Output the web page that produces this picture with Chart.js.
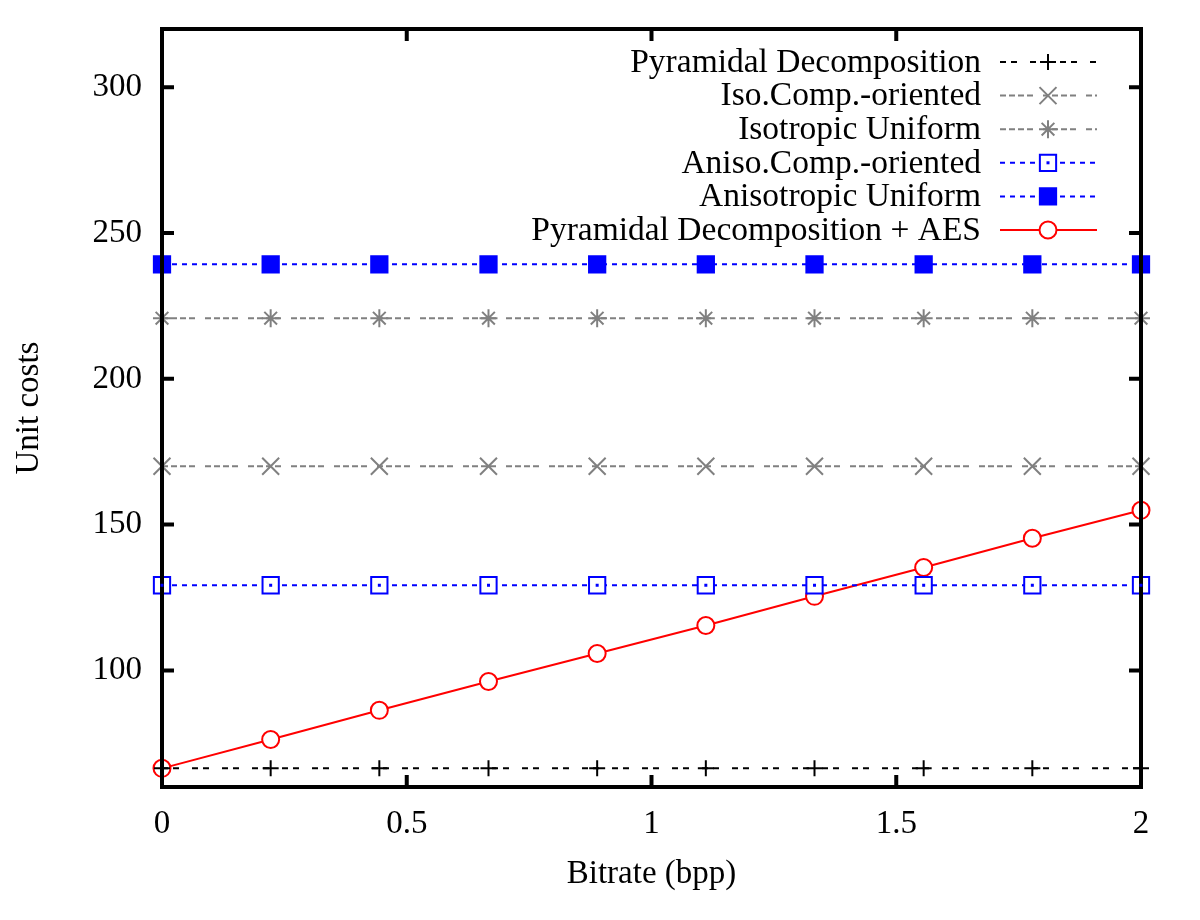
<!DOCTYPE html>
<html>
<head>
<meta charset="utf-8">
<script src="https://cdn.jsdelivr.net/npm/chart.js@4.4.0/dist/chart.umd.min.js"></script>
<style>
  body { margin: 0; background: #fff; }
</style>
</head>
<body>
<canvas id="costChart" width="1200" height="920"></canvas>
<script>
// bitrate samples (bpp)
const bitrates = [0, 0.222, 0.444, 0.667, 0.889, 1.111, 1.333, 1.556, 1.778, 2];

const pyramidal = [66.4, 66.4, 66.4, 66.4, 66.4, 66.4, 66.4, 66.4, 66.4, 66.4];
const isoComp = [170, 170, 170, 170, 170, 170, 170, 170, 170, 170];
const isoUniform = [220.8, 220.8, 220.8, 220.8, 220.8, 220.8, 220.8, 220.8, 220.8, 220.8];
const anisoComp = [129.2, 129.2, 129.2, 129.2, 129.2, 129.2, 129.2, 129.2, 129.2, 129.2];
const anisoUniform = [239.3, 239.3, 239.3, 239.3, 239.3, 239.3, 239.3, 239.3, 239.3, 239.3];
const pyramidalAES = [66.4, 76.3, 86.3, 96.2, 105.8, 115.4, 125.4, 135.3, 145.3, 154.9];

const xTicks = [0, 0.5, 1, 1.5, 2];
const yTicks = [100, 150, 200, 250, 300];

const FONT = '"Liberation Serif", "DejaVu Serif", serif';

function pts(vals) {
  return vals.map((v, i) => ({ x: bitrates[i], y: v }));
}

function series(label, vals, color, dash, style, radius, fill) {
  return {
    label: label,
    data: pts(vals),
    borderColor: color,
    borderWidth: 2,
    borderDash: dash,
    pointStyle: style,
    pointRadius: radius,
    pointBorderColor: color,
    pointBackgroundColor: fill,
    pointBorderWidth: 2,
    tension: 0,
    clip: false,
  };
}

// frame, inward ticks (all four sides), and the legend
const gnuplotFrame = {
  id: "gnuplotFrame",
  afterDatasetsDraw(chart) {
    const ctx = chart.ctx;
    const a = chart.chartArea;
    const xs = chart.scales.x, ys = chart.scales.y;
    ctx.save();
    ctx.strokeStyle = "#000";
    ctx.lineWidth = 4;
    ctx.strokeRect(a.left, a.top, a.right - a.left, a.bottom - a.top);
    ctx.beginPath();
    yTicks.forEach(v => {
      const y = ys.getPixelForValue(v);
      ctx.moveTo(a.left, y); ctx.lineTo(a.left + 12, y);
      ctx.moveTo(a.right, y); ctx.lineTo(a.right - 12, y);
    });
    xTicks.forEach(v => {
      const x = xs.getPixelForValue(v);
      ctx.moveTo(x, a.bottom); ctx.lineTo(x, a.bottom - 12);
      ctx.moveTo(x, a.top); ctx.lineTo(x, a.top + 12);
    });
    ctx.stroke();

    // centre dot on open squares
    chart.data.datasets.forEach((ds, i) => {
      if (ds.centerDot) {
        ctx.fillStyle = ds.borderColor;
        chart.getDatasetMeta(i).data.forEach(p => {
          ctx.fillRect(p.x - 1.5, p.y - 1.5, 3, 3);
        });
      }
    });

    // legend
    ctx.font = "33.5px " + FONT;
    ctx.textAlign = "right";
    ctx.textBaseline = "middle";
    chart.data.datasets.forEach((ds, i) => {
      const y = 62 + i * 33.6;
      ctx.fillStyle = "#000";
      ctx.fillText(ds.label, 981, y + 1);
      ctx.save();
      ctx.strokeStyle = ds.borderColor;
      ctx.lineWidth = ds.borderWidth;
      ctx.setLineDash(ds.borderDash || []);
      ctx.beginPath();
      ctx.moveTo(1000, y); ctx.lineTo(1097, y);
      ctx.stroke();
      ctx.setLineDash([]);
      ctx.strokeStyle = ds.pointBorderColor;
      ctx.fillStyle = ds.pointBackgroundColor;
      ctx.lineWidth = ds.pointBorderWidth;
      Chart.helpers.drawPoint(ctx, { pointStyle: ds.pointStyle, radius: ds.pointRadius, rotation: 0, borderWidth: ds.pointBorderWidth }, 1048, y);
      if (ds.centerDot) {
        ctx.fillStyle = ds.borderColor;
        ctx.fillRect(1048 - 1.5, y - 1.5, 3, 3);
      }
      ctx.restore();
    });
    ctx.restore();
  },
};

const datasets = [
  series("Pyramidal Decomposition", pyramidal, "#000000", [6, 5, 6, 13], "cross", 8, "#000000"),
  series("Iso.Comp.-oriented", isoComp, "#808080", [6, 3, 6, 3, 6, 3, 6, 10], "crossRot", 12, "#808080"),
  series("Isotropic Uniform", isoUniform, "#808080", [6, 3, 6, 3, 6, 3, 6, 10], "star", 9, "#808080"),
  series("Aniso.Comp.-oriented", anisoComp, "#0000ff", [5, 5], "rect", 11.5, "#ffffff"),
  series("Anisotropic Uniform", anisoUniform, "#0000ff", [5, 5], "rect", 11.5, "#0000ff"),
  series("Pyramidal Decomposition + AES", pyramidalAES, "#ff0000", [], "circle", 8.5, "#ffffff"),
];
datasets[3].centerDot = true;

new Chart(document.getElementById("costChart"), {
  type: "line",
  data: { datasets: datasets },
  plugins: [gnuplotFrame],
  options: {
    responsive: false,
    animation: false,
    events: [],
    layout: { padding: { top: 29, right: 59, left: 0, bottom: 0 } },
    plugins: {
      legend: { display: false },
      tooltip: { enabled: false },
    },
    scales: {
      x: {
        type: "linear",
        min: 0,
        max: 2,
        afterBuildTicks: s => { s.ticks = xTicks.map(v => ({ value: v })); },
        afterFit: s => { s.height = 133; s.paddingLeft = 0; s.paddingRight = 0; },
        grid: { display: false, drawTicks: false },
        border: { display: false },
        ticks: { color: "#000", padding: 18, font: { family: FONT, size: 33 }, callback: v => String(v) },
        title: { display: true, text: "Bitrate (bpp)", color: "#000", padding: { top: 0, bottom: 26 }, font: { family: FONT, size: 33 } },
      },
      y: {
        type: "linear",
        min: 60,
        max: 320,
        afterBuildTicks: s => { s.ticks = yTicks.map(v => ({ value: v })); },
        afterFit: s => { s.width = 162; s.paddingTop = 0; s.paddingBottom = 0; },
        grid: { display: false, drawTicks: false },
        border: { display: false },
        ticks: { color: "#000", padding: 20, font: { family: FONT, size: 33 } },
        title: { display: true, text: "Unit costs", color: "#000", padding: { top: 10, bottom: 0 }, font: { family: FONT, size: 33 } },
      },
    },
  },
});
</script>
</body>
</html>
